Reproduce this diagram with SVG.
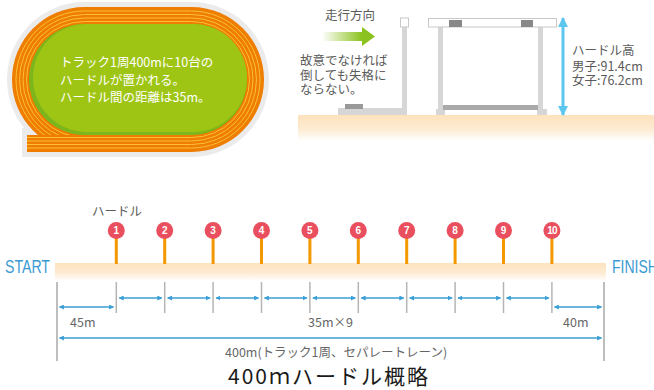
<svg xmlns="http://www.w3.org/2000/svg" width="654" height="390" viewBox="0 0 654 390">
  <defs>
    <linearGradient id="ground" x1="0" y1="0" x2="0" y2="1">
      <stop offset="0" stop-color="#fde2bd"/>
      <stop offset="0.55" stop-color="#fdebd3"/>
      <stop offset="1" stop-color="#ffffff"/>
    </linearGradient>
    <linearGradient id="dirArrow" x1="0" y1="0" x2="1" y2="0">
      <stop offset="0" stop-color="#ffffff"/>
      <stop offset="0.75" stop-color="#8cc21f"/>
      <stop offset="1" stop-color="#8cc21f"/>
    </linearGradient>
    <marker id="headDim" viewBox="0 0 8 8" refX="7" refY="4" markerWidth="5" markerHeight="5" orient="auto-start-reverse" markerUnits="userSpaceOnUse">
      <path d="M0,0 L8,4 L0,8 Z" fill="#3a9fd6"/>
    </marker>
    <marker id="headHeight" viewBox="0 0 10 10" refX="9" refY="5" markerWidth="10" markerHeight="10" orient="auto-start-reverse" markerUnits="userSpaceOnUse">
      <path d="M0,0 L10,5 L0,10 Z" fill="#5cc6ee"/>
    </marker>
  </defs>
  <style>
    .jp { font-family: "Noto Sans CJK JP", "Noto Sans", sans-serif; }
    .note { fill: #5a5a5a; font-size: 12.5px; }
    .white { fill: #ffffff; font-size: 12.5px; }
    .dim { stroke: #3a9fd6; stroke-width: 1.6; fill: none; marker-start: url(#headDim); marker-end: url(#headDim); }
    .tick { stroke: #b5b5b5; stroke-width: 1.5; }
    .tickEnd { stroke: #a8a8a8; stroke-width: 1.5; }
    .lane { fill: none; stroke: #fbbf3c; stroke-width: 1; }
    .stem { stroke: #f39800; stroke-width: 3; }
    .ball { fill: #e94f5e; }
    .num { fill: #ffffff; font-family: "Liberation Sans", Arial, sans-serif; font-weight: bold; font-size: 10px; text-anchor: middle; }
    .post { fill: #d6d6d6; }
    .label { fill: #3b9ad3; font-family: "Liberation Sans", Arial, sans-serif; font-size: 18px; }
    .len { fill: #666666; font-size: 12.5px; }
  </style>

  <!-- Track oval with rule note -->
  <g id="track">
    <!-- soft grey halo -->
    <rect x="7" y="2" width="262" height="155" rx="77.5" fill="#ebebeb"/>
    <rect x="22" y="128" width="70" height="29" fill="#ebebeb"/>
    <!-- lanes -->
    <rect x="12" y="7" width="252" height="145" rx="72.5" fill="#ee7d00"/>
    <rect x="16" y="11" width="244" height="137" rx="68.5" class="lane"/>
    <rect x="19.5" y="14.5" width="237" height="130" rx="65" class="lane"/>
    <rect x="23" y="18" width="230" height="123" rx="61.5" class="lane"/>
    <rect x="26.5" y="21.5" width="223" height="116" rx="58" class="lane"/>
    <!-- straight lanes leaving the bend -->
    <rect x="27" y="135" width="60" height="17" fill="#ee7d00"/>
    <path class="lane" d="M27,148 H87 M27,144.5 H87 M27,141 H87 M27,137.5 H87"/>
    <!-- infield -->
    <rect x="29" y="24" width="218" height="111" rx="55.5" fill="#7cb51c"/>
    <rect x="33" y="24" width="214" height="108" rx="54" fill="#9ec514"/>
    <text class="jp white" x="60" y="67">トラック1周400mに10台の</text>
    <text class="jp white" x="60" y="85">ハードルが置かれる。</text>
    <text class="jp white" x="60" y="102">ハードル間の距離は35m。</text>
  </g>

  <!-- Side view of the hurdle -->
  <g id="hurdle-side">
    <rect x="298" y="115" width="356" height="26" fill="url(#ground)"/>
    <text class="jp note" x="325" y="20">走行方向</text>
    <path d="M322,32 H362 V27 L375,36.5 L362,46 V41 H322 Z" fill="url(#dirArrow)"/>
    <text class="jp note" x="300" y="65" font-size="13">故意でなければ</text>
    <text class="jp note" x="300" y="80" font-size="13">倒しても失格に</text>
    <text class="jp note" x="300" y="94" font-size="13">ならない。</text>
    <!-- knocked-over hurdle -->
    <g id="fallen-hurdle">
      <rect x="338" y="108" width="69" height="7" class="post"/>
      <rect x="402" y="26" width="5" height="86" class="post"/>
      <rect x="400.5" y="18" width="8" height="9" fill="#ffffff" stroke="#c8c8c8" stroke-width="1"/>
      <rect x="345" y="104" width="18" height="5" fill="#999999"/>
    </g>
    <!-- standing hurdle -->
    <g id="standing-hurdle">
      <rect x="438" y="26" width="5" height="86" class="post"/>
      <rect x="538" y="26" width="5" height="86" class="post"/>
      <rect x="436" y="109" width="9" height="6" class="post"/>
      <rect x="537" y="109" width="10" height="6" class="post"/>
      <rect x="443" y="105" width="95" height="5" fill="#aaaaaa"/>
      <rect x="428.5" y="18.5" width="128" height="8.5" fill="#ffffff" stroke="#c8c8c8" stroke-width="1"/>
      <rect x="449" y="20" width="13" height="7" fill="#888888"/>
      <rect x="521" y="20" width="12" height="7" fill="#888888"/>
    </g>
    <line x1="563" y1="18" x2="563" y2="115" stroke="#5cc6ee" stroke-width="3" marker-start="url(#headHeight)" marker-end="url(#headHeight)"/>
    <text class="jp note" x="572" y="55" font-size="13">ハードル高</text>
    <text class="jp note" x="572" y="71" font-size="13">男子:91.4cm</text>
    <text class="jp note" x="572" y="85" font-size="13">女子:76.2cm</text>
  </g>

  <!-- Course strip -->
  <g id="course">
    <rect x="55" y="263" width="551" height="18" fill="url(#ground)"/>
    <text class="label" x="5" y="273" textLength="45" lengthAdjust="spacingAndGlyphs">START</text>
    <text class="label" x="612" y="273" textLength="46" lengthAdjust="spacingAndGlyphs">FINISH</text>
    <text class="jp note" x="92" y="216" font-size="12">ハードル</text>
  </g>

  <!-- Hurdles 1-10 -->
  <g id="h1"><line class="stem" x1="116.3" y1="238" x2="116.3" y2="264"/><circle class="ball" cx="116.3" cy="230.5" r="8.5"/><text class="num" x="116.3" y="234">1</text></g>
  <g id="h2"><line class="stem" x1="164.7" y1="238" x2="164.7" y2="264"/><circle class="ball" cx="164.7" cy="230.5" r="8.5"/><text class="num" x="164.7" y="234">2</text></g>
  <g id="h3"><line class="stem" x1="213.1" y1="238" x2="213.1" y2="264"/><circle class="ball" cx="213.1" cy="230.5" r="8.5"/><text class="num" x="213.1" y="234">3</text></g>
  <g id="h4"><line class="stem" x1="261.5" y1="238" x2="261.5" y2="264"/><circle class="ball" cx="261.5" cy="230.5" r="8.5"/><text class="num" x="261.5" y="234">4</text></g>
  <g id="h5"><line class="stem" x1="309.9" y1="238" x2="309.9" y2="264"/><circle class="ball" cx="309.9" cy="230.5" r="8.5"/><text class="num" x="309.9" y="234">5</text></g>
  <g id="h6"><line class="stem" x1="358.3" y1="238" x2="358.3" y2="264"/><circle class="ball" cx="358.3" cy="230.5" r="8.5"/><text class="num" x="358.3" y="234">6</text></g>
  <g id="h7"><line class="stem" x1="406.7" y1="238" x2="406.7" y2="264"/><circle class="ball" cx="406.7" cy="230.5" r="8.5"/><text class="num" x="406.7" y="234">7</text></g>
  <g id="h8"><line class="stem" x1="455.1" y1="238" x2="455.1" y2="264"/><circle class="ball" cx="455.1" cy="230.5" r="8.5"/><text class="num" x="455.1" y="234">8</text></g>
  <g id="h9"><line class="stem" x1="503.5" y1="238" x2="503.5" y2="264"/><circle class="ball" cx="503.5" cy="230.5" r="8.5"/><text class="num" x="503.5" y="234">9</text></g>
  <g id="h10"><line class="stem" x1="551.9" y1="238" x2="551.9" y2="264"/><circle class="ball" cx="551.9" cy="230.5" r="8.5"/><text class="num" x="551.9" y="234" font-size="9.5" letter-spacing="-0.8">10</text></g>

  <!-- Dimension lines -->
  <g id="connectors">
    <line class="tickEnd" x1="57" y1="282" x2="57" y2="361"/>
    <line class="tickEnd" x1="604" y1="282" x2="604" y2="361"/>
    <line class="tick" x1="116.3" y1="282" x2="116.3" y2="313"/>
    <line class="tick" x1="164.7" y1="282" x2="164.7" y2="313"/>
    <line class="tick" x1="213.1" y1="282" x2="213.1" y2="313"/>
    <line class="tick" x1="261.5" y1="282" x2="261.5" y2="313"/>
    <line class="tick" x1="309.9" y1="282" x2="309.9" y2="313"/>
    <line class="tick" x1="358.3" y1="282" x2="358.3" y2="313"/>
    <line class="tick" x1="406.7" y1="282" x2="406.7" y2="313"/>
    <line class="tick" x1="455.1" y1="282" x2="455.1" y2="313"/>
    <line class="tick" x1="503.5" y1="282" x2="503.5" y2="313"/>
    <line class="tick" x1="551.9" y1="282" x2="551.9" y2="313"/>
    <line class="dim" x1="119.3" y1="298" x2="161.7" y2="298"/>
    <line class="dim" x1="167.7" y1="298" x2="210.1" y2="298"/>
    <line class="dim" x1="216.1" y1="298" x2="258.5" y2="298"/>
    <line class="dim" x1="264.5" y1="298" x2="306.9" y2="298"/>
    <line class="dim" x1="312.9" y1="298" x2="355.3" y2="298"/>
    <line class="dim" x1="361.3" y1="298" x2="403.7" y2="298"/>
    <line class="dim" x1="409.7" y1="298" x2="452.1" y2="298"/>
    <line class="dim" x1="458.1" y1="298" x2="500.5" y2="298"/>
    <line class="dim" x1="506.5" y1="298" x2="548.9" y2="298"/>
    <line class="dim" x1="59.5" y1="307" x2="113.5" y2="307"/>
    <line class="dim" x1="554.5" y1="307" x2="601.5" y2="307"/>
    <line class="dim" x1="59.5" y1="338" x2="601.5" y2="338"/>
    <text class="jp len" x="70" y="327">45m</text>
    <text class="jp len" x="308" y="327">35m×9</text>
    <text class="jp len" x="563" y="327">40m</text>
    <text class="jp len" x="225" y="357">400m(トラック1周、セパレートレーン)</text>
  </g>

  <text class="jp" x="329" y="384" font-size="21" letter-spacing="2" fill="#1a1a1a" text-anchor="middle">400ｍハードル概略</text>
</svg>
